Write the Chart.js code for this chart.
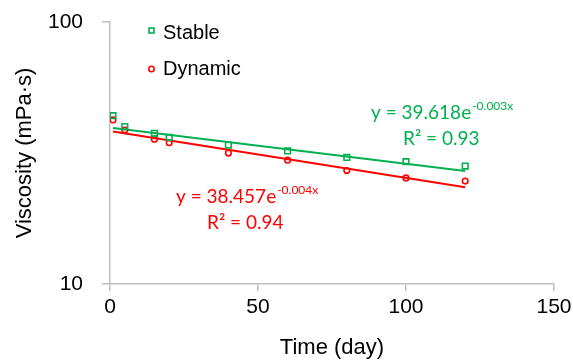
<!DOCTYPE html>
<html>
<head>
<meta charset="utf-8">
<script src="https://cdn.jsdelivr.net/npm/chart.js@4/dist/chart.umd.min.js"></script>
<style>
  body { margin: 0; background: #fff; }
</style>
</head>
<body>
<canvas id="chartViscosity" width="573" height="363"></canvas>
<script>
// data
var days = [1, 5, 15, 20, 40, 60, 80, 100, 120];
var stableVals = [43.9, 39.9, 37.6, 36.3, 33.9, 32.2, 30.4, 29.3, 28.2];
var dynamicVals = [42.3, 38.7, 35.7, 34.6, 31.6, 29.7, 27.1, 25.4, 24.7];

// fitted exponential trend lines (straight on log axis), end points
var trendDays = [1, 120];
var stableTrend = [39.4, 27.0];
var dynamicTrend = [38.2, 23.4];

var yTicks = [10, 100];
var xTicks = [0, 50, 100, 150];

var green = '#00b050';
var red = '#ff0000';
var axisGrey = '#bfbfbf';

function toPoints(xs, ys) {
  return xs.map(function (x, i) { return { x: x, y: ys[i] }; });
}

Chart.defaults.font.family = 'Liberation Sans, Arial, sans-serif';
Chart.defaults.color = '#000';

// legend + equations drawn on top
var labelsPlugin = {
  id: 'labels',
  afterDraw: function (chart) {
    var ctx = chart.ctx;
    var a = chart.chartArea;
    var L = a.left, T = a.top;
    ctx.save();

    // legend
    ctx.lineWidth = 1.6;
    ctx.strokeStyle = green;
    ctx.strokeRect(L + 39, T + 6, 5, 5);
    ctx.strokeStyle = red;
    ctx.beginPath();
    ctx.arc(L + 41.5, T + 47, 2.7, 0, Math.PI * 2);
    ctx.stroke();
    ctx.fillStyle = '#000';
    ctx.font = '20px Liberation Sans';
    ctx.textBaseline = 'alphabetic';
    ctx.fillText('Stable', L + 53, T + 17);
    ctx.fillText('Dynamic', L + 53, T + 53);

    // equations
    function eq(x, y, main, sup, r2, r2x, color) {
      ctx.fillStyle = color;
      ctx.font = '19px Lato';
      ctx.fillText(main, x, y);
      var w = ctx.measureText(main).width;
      ctx.font = '12px Lato';
      ctx.fillText(sup, x + w + 1, y - 9);
      ctx.font = '19px Lato';
      ctx.fillText(r2, r2x, y + 26);
    }
    eq(L + 261, T + 97, 'y = 39.618e', '-0.003x', 'R\u00B2 = 0.93', L + 293, green);
    eq(L + 66, T + 181, 'y = 38.457e', '-0.004x', 'R\u00B2 = 0.94', L + 97, red);
    ctx.restore();
  }
};

new Chart(document.getElementById('chartViscosity'), {
  type: 'scatter',
  data: {
    datasets: [{
      label: 'Stable',
      data: toPoints(days, stableVals),
      pointStyle: 'rect',
      pointRadius: 4,
      borderColor: green,
      backgroundColor: 'rgba(0,0,0,0)',
      borderWidth: 1.6
    }, {
      label: 'Dynamic',
      data: toPoints(days, dynamicVals),
      pointStyle: 'circle',
      pointRadius: 2.8,
      borderColor: red,
      backgroundColor: 'rgba(0,0,0,0)',
      borderWidth: 1.6
    }, {
      label: 'Stable fit',
      data: toPoints(trendDays, stableTrend),
      showLine: true,
      pointRadius: 0,
      borderColor: green,
      borderWidth: 2
    }, {
      label: 'Dynamic fit',
      data: toPoints(trendDays, dynamicTrend),
      showLine: true,
      pointRadius: 0,
      borderColor: red,
      borderWidth: 2
    }]
  },
  options: {
    responsive: false,
    animation: false,
    layout: { padding: { left: 0, right: 19, top: 22, bottom: 0 } },
    plugins: {
      legend: { display: false },
      tooltip: { enabled: false }
    },
    scales: {
      x: {
        type: 'linear',
        min: 0,
        max: 150,
        afterBuildTicks: function (scale) {
          scale.ticks = xTicks.map(function (v) { return { value: v }; });
        },
        afterFit: function (scale) {
          scale.height = 79;
          scale.paddingLeft = 0;
          scale.paddingRight = 0;
        },
        grid: { drawOnChartArea: false, color: axisGrey, lineWidth: 1.5, tickLength: 7 },
        border: { color: axisGrey, width: 1.5 },
        ticks: { font: { size: 21 }, padding: 4, maxRotation: 0 },
        title: { display: true, text: 'Time (day)', font: { size: 22 }, padding: { top: 0, bottom: 2 } }
      },
      y: {
        type: 'logarithmic',
        min: 10,
        max: 100,
        afterBuildTicks: function (scale) {
          scale.ticks = yTicks.map(function (v) { return { value: v }; });
        },
        afterFit: function (scale) {
          scale.width = 110;
          scale.paddingTop = 0;
          scale.paddingBottom = 0;
        },
        grid: { drawOnChartArea: false, color: axisGrey, lineWidth: 1.5, tickLength: 8 },
        border: { color: axisGrey, width: 1.5 },
        ticks: {
          font: { size: 21 },
          padding: 19,
          callback: function (v) { return String(v); }
        },
        title: { display: true, text: 'Viscosity (mPa\u00B7s)', font: { size: 22 }, padding: { top: 12, bottom: 0 } }
      }
    }
  },
  plugins: [labelsPlugin]
});
</script>
</body>
</html>
